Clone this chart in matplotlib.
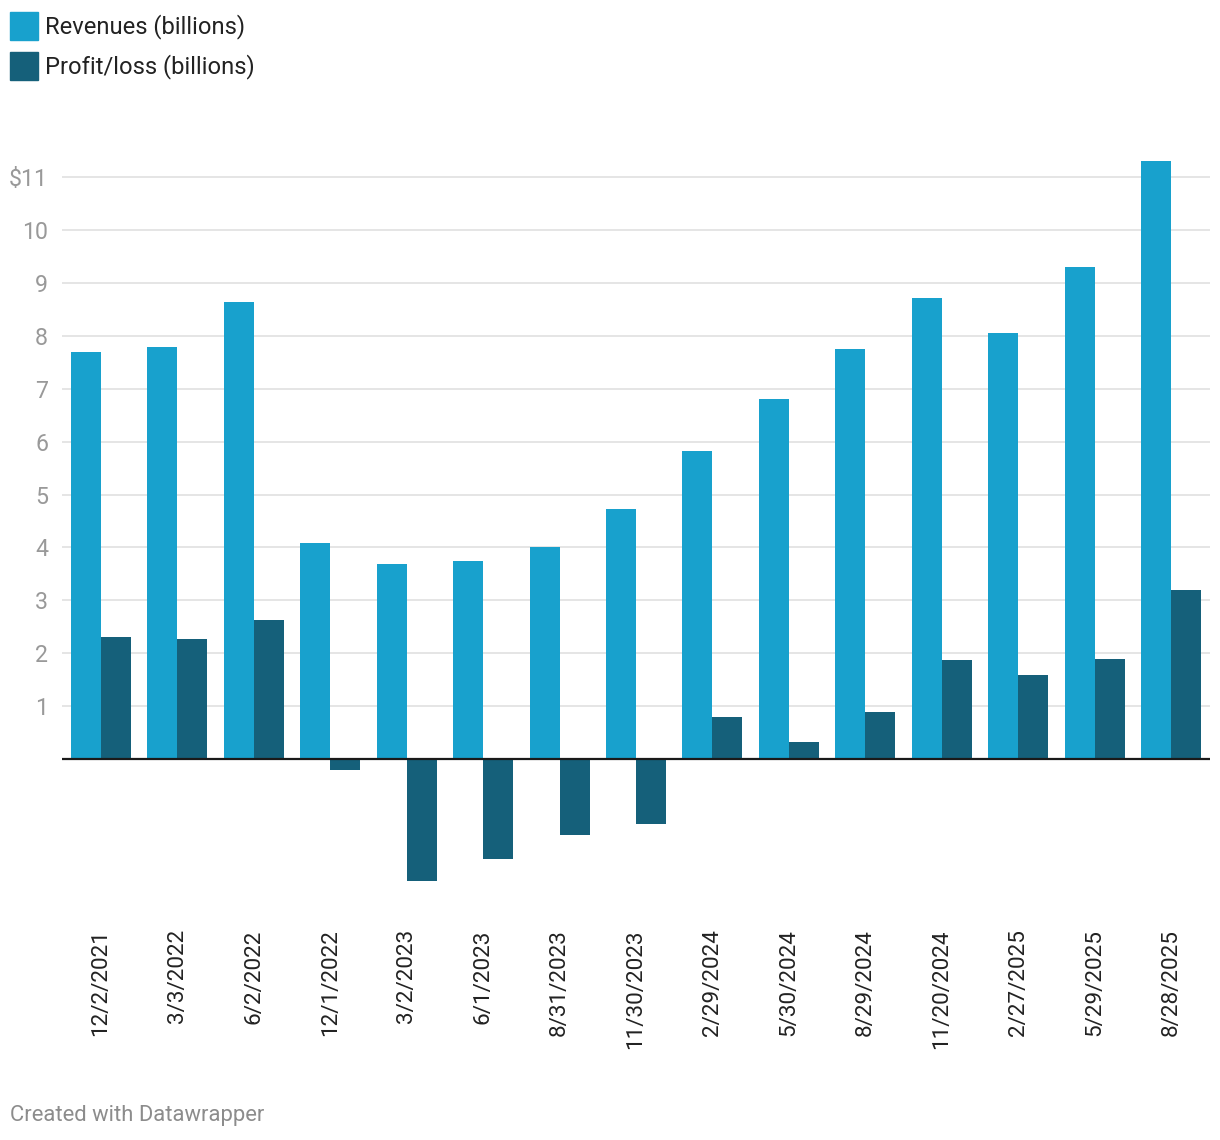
import numpy as np
import matplotlib
matplotlib.use("Agg")
import matplotlib.pyplot as plt
from matplotlib.patches import Rectangle

plt.rcParams['font.family'] = ['Roboto', 'DejaVu Sans']

dates = ["12/2/2021", "3/3/2022", "6/2/2022", "12/1/2022", "3/2/2023", "6/1/2023",
         "8/31/2023", "11/30/2023", "2/29/2024", "5/30/2024", "8/29/2024",
         "11/20/2024", "2/27/2025", "5/29/2025", "8/28/2025"]
revenues = [7.69, 7.79, 8.64, 4.08, 3.69, 3.74, 4.01, 4.73, 5.82, 6.81, 7.75,
            8.71, 8.05, 9.30, 11.30]
profit = [2.31, 2.27, 2.63, -0.21, -2.31, -1.89, -1.44, -1.23, 0.79, 0.32, 0.89,
          1.87, 1.59, 1.89, 3.19]
yticks = [1, 2, 3, 4, 5, 6, 7, 8, 9, 10, 11]
ytick_labels = ["1", "2", "3", "4", "5", "6", "7", "8", "9", "10", "$11"]

W, H = 1220, 1140
fig = plt.figure(figsize=(W / 100, H / 100), dpi=100)

# axes placed in pixel terms
left, right, top, bottom = 62, 1210, 150, 900
ax = fig.add_axes([left / W, 1 - bottom / H, (right - left) / W, (bottom - top) / H])

x = np.arange(len(dates))
w = 0.392
ax.bar(x - w / 2, revenues, width=w, color="#18a1cd", zorder=2)
ax.bar(x + w / 2, profit, width=w, color="#15607a", zorder=2)

ax.set_xlim(-0.51, len(dates) - 0.49)
ax.set_ylim(-2.665, 11.512)

ax.set_yticks(yticks)
ax.set_yticklabels(ytick_labels, fontsize=16.7, color="#999999")
ax.tick_params(axis="y", length=0, pad=10)
ax.grid(axis="y", color="#e3e3e3", linewidth=1.3, zorder=0)
ax.axhline(0, color="#1a1a1a", linewidth=1.6, zorder=3)

ax.set_xticks(x)
ax.set_xticklabels(dates, rotation=90, fontsize=16.2, color="#222222")
ax.tick_params(axis="x", length=0, pad=21)

for s in ax.spines.values():
    s.set_visible(False)

# legend
for i, (lab, col) in enumerate([("Revenues (billions)", "#18a1cd"),
                                ("Profit/loss (billions)", "#15607a")]):
    y0 = 12 + i * 40
    fig.add_artist(Rectangle((10 / W, 1 - (y0 + 28) / H), 28 / W, 28 / H,
                             transform=fig.transFigure, color=col))
    fig.text(45 / W, 1 - (y0 + 15) / H, lab, fontsize=17.1, color="#222222",
             va="center", ha="left")

fig.text(10 / W, 1 - 1115 / H, "Created with Datawrapper", fontsize=15.8,
         color="#8c8c8c", va="center", ha="left")

fig.savefig("out.png", dpi=100)
